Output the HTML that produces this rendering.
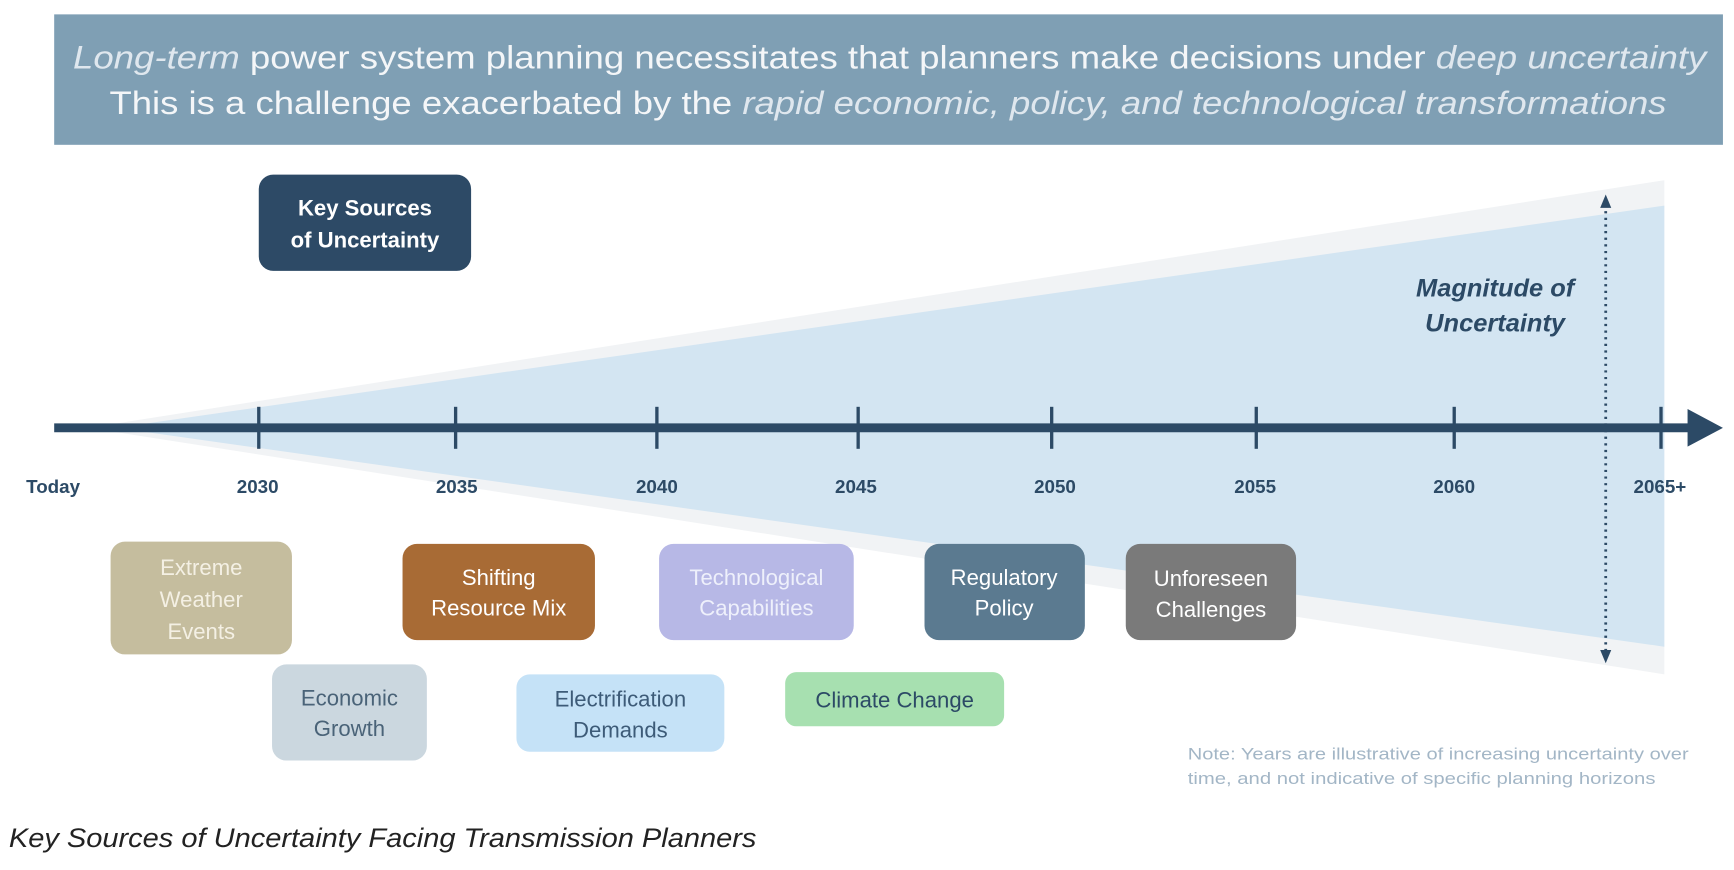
<!DOCTYPE html>
<html><head><meta charset="utf-8"><style>
html,body{margin:0;padding:0;background:#fff;width:1734px;height:870px;overflow:hidden}
svg{display:block}
text{font-family:"Liberation Sans",sans-serif}
</style></head><body>
<svg width="1734" height="870" viewBox="0 0 1568 787" preserveAspectRatio="none">
<rect x="49" y="13" width="1509" height="118" fill="#7f9fb4"/>
<text x="66" y="62" font-size="29" fill="#f4f6f8" textLength="1477" lengthAdjust="spacingAndGlyphs"><tspan font-style="italic" fill="#dfe7ee">Long-term</tspan> power system planning necessitates that planners make decisions under <tspan font-style="italic" fill="#dfe7ee">deep uncertainty</tspan></text>
<text x="99" y="103" font-size="29" fill="#f4f6f8" textLength="1408" lengthAdjust="spacingAndGlyphs">This is a challenge exacerbated by the <tspan font-style="italic" fill="#dfe7ee">rapid economic, policy, and technological transformations</tspan></text>
<polygon points="80,387 1505,163 1505,610" fill="#f1f3f5"/>
<polygon points="105,387 1505,186 1505,585" fill="#d3e5f2"/>
<line x1="49" y1="387" x2="1530" y2="387" stroke="#2c4a66" stroke-width="8"/>
<polygon points="1526,370 1558,387 1526,404" fill="#2c4a66"/>
<g stroke="#2c4a66" stroke-width="3">
<line x1="234" y1="368" x2="234" y2="406"/><line x1="412" y1="368" x2="412" y2="406"/>
<line x1="594" y1="368" x2="594" y2="406"/><line x1="776" y1="368" x2="776" y2="406"/>
<line x1="951" y1="368" x2="951" y2="406"/><line x1="1136" y1="368" x2="1136" y2="406"/>
<line x1="1315" y1="368" x2="1315" y2="406"/><line x1="1502" y1="368" x2="1502" y2="406"/>
</g>
<line x1="1452" y1="185" x2="1452" y2="592" stroke="#2c4a66" stroke-width="2.5" stroke-dasharray="2,4"/>
<polygon points="1447,188 1452,176 1457,188" fill="#2c4a66"/>
<polygon points="1447,588 1452,600 1457,588" fill="#2c4a66"/>
<g font-size="17" font-weight="bold" fill="#2c4a66" text-anchor="middle">
<text x="48" y="446">Today</text><text x="233" y="446">2030</text><text x="413" y="446">2035</text>
<text x="594" y="446">2040</text><text x="774" y="446">2045</text><text x="954" y="446">2050</text>
<text x="1135" y="446">2055</text><text x="1315" y="446">2060</text><text x="1501" y="446">2065+</text>
</g>
<g font-size="23" font-weight="bold" font-style="italic" fill="#2c4a66" text-anchor="middle">
<text x="1352" y="268">Magnitude of</text><text x="1352" y="300">Uncertainty</text>
</g>
<rect x="234" y="158" width="192" height="87" rx="13" fill="#2d4a66"/>
<g font-size="20" font-weight="bold" fill="#fff" text-anchor="middle">
<text x="330" y="195">Key Sources</text><text x="330" y="224">of Uncertainty</text></g>
<g font-size="20" text-anchor="middle">
<rect x="100" y="490" width="164" height="102" rx="13" fill="#c5bd9e"/>
<text x="182" y="520" fill="#f4f0e4">Extreme</text><text x="182" y="549" fill="#f4f0e4">Weather</text><text x="182" y="578" fill="#f4f0e4">Events</text>
<rect x="246" y="601" width="140" height="87" rx="13" fill="#cbd7df"/>
<text x="316" y="638" fill="#4a6378">Economic</text><text x="316" y="666" fill="#4a6378">Growth</text>
<rect x="364" y="492" width="174" height="87" rx="13" fill="#a86b35"/>
<text x="451" y="529" fill="#fff">Shifting</text><text x="451" y="557" fill="#fff">Resource Mix</text>
<rect x="467" y="610" width="188" height="70" rx="12" fill="#c5e2f7"/>
<text x="561" y="639" fill="#3d5b78">Electrification</text><text x="561" y="667" fill="#3d5b78">Demands</text>
<rect x="596" y="492" width="176" height="87" rx="13" fill="#b7b8e6"/>
<text x="684" y="529" fill="#eef0fb">Technological</text><text x="684" y="557" fill="#eef0fb">Capabilities</text>
<rect x="710" y="608" width="198" height="49" rx="10" fill="#a7e0b0"/>
<text x="809" y="640" fill="#2c4a66">Climate Change</text>
<rect x="836" y="492" width="145" height="87" rx="13" fill="#5b7a90"/>
<text x="908" y="529" fill="#fff">Regulatory</text><text x="908" y="557" fill="#fff">Policy</text>
<rect x="1018" y="492" width="154" height="87" rx="13" fill="#7a7a7a"/>
<text x="1095" y="530" fill="#fff">Unforeseen</text><text x="1095" y="558" fill="#fff">Challenges</text>
</g>
<g font-size="15" fill="#a3b6c6">
<text x="1074" y="687" textLength="453" lengthAdjust="spacingAndGlyphs">Note: Years are illustrative of increasing uncertainty over</text>
<text x="1074" y="709" textLength="423" lengthAdjust="spacingAndGlyphs">time, and not indicative of specific planning horizons</text>
</g>
<text x="8" y="766" font-size="24" font-style="italic" fill="#222" textLength="676" lengthAdjust="spacingAndGlyphs">Key Sources of Uncertainty Facing Transmission Planners</text>
</svg>
</body></html>
